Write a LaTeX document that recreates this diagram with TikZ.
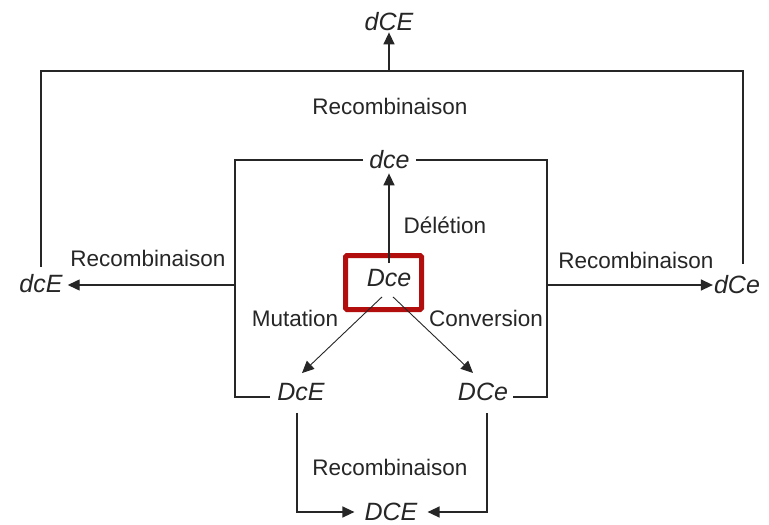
\documentclass[tikz,border=0pt]{standalone}
\usepackage{fontspec}
\setmainfont{Liberation Sans}
\usetikzlibrary{arrows.meta}
\definecolor{ink}{RGB}{38,38,38}
\definecolor{boxred}{RGB}{178,14,14}
\begin{document}
\begin{tikzpicture}[x=1pt,y=-1pt,
  gene/.style={font=\fontsize{25}{28}\selectfont\itshape, text=ink, inner sep=0pt},
  lbl/.style={font=\fontsize{22.5}{26}\selectfont, text=ink, inner sep=0pt},
  link/.style={draw=ink, line width=1.4pt},
  tiplink/.style={link, -{Triangle[length=12pt,width=11pt]}},
  diag/.style={draw=ink, line width=0.9pt, -{Triangle[length=12pt,width=11pt]}},
  focus/.style={draw=boxred, line width=5pt, rounded corners=1.5pt,
    minimum width=76pt, minimum height=54pt, inner sep=0pt}]
\fill[white] (0,0) rectangle (769,525);
\useasboundingbox (0,0) rectangle (769,525);

% genotypes
\node[gene] (dCE) at (389,22) {dCE};
\node[gene] (dce) at (389.5,160) {dce};
\node[gene] (dcE) at (41,284) {dcE};
\node[gene] (dCe) at (737,285) {dCe};
\node[focus] (box) at (383.5,282.5) {};
\node[gene] (Dce) at (389,278) {Dce};
\node[gene] (DcE) at (301,392) {DcE};
\node[gene] (DCe) at (483,392) {DCe};
\node[gene] (DCE) at (391,512) {DCE};

% process labels
\node[lbl] (rTop) at (390,106) {Recombinaison};
\node[lbl] (rLeft) at (148,258) {Recombinaison};
\node[lbl] (rRight) at (636,260) {Recombinaison};
\node[lbl] (rBottom) at (390,467) {Recombinaison};
\node[lbl] (del) at (445,225) {Délétion};
\node[lbl] (mut) at (295,318) {Mutation};
\node[lbl] (conv) at (486,318) {Conversion};

% routing points
\coordinate (top) at (389,71);
\coordinate (iL) at (235,397);
\coordinate (iR) at (547,397);
\coordinate (mL) at (235,285);
\coordinate (mR) at (547,285);
\coordinate (bL) at (297,512);
\coordinate (bR) at (487,512);
\coordinate (dstart) at (389,263);

% outer recombination frame: dcE + dCe -> dCE
\draw[link] ([yshift=8pt]dcE.north) |- (top) -| ([xshift=6pt,yshift=12pt]dCe.north);
\draw[tiplink, shorten >=1pt] (top) -- (top |- dCE.south);

% inner frame around dce, DcE and DCe
\draw[link, shorten >=7pt] ([xshift=-6pt]dce.west) -| (iL) -- (iL -| DcE.west);
\draw[link, shorten >=5pt] ([xshift=6pt]dce.east) -| (iR) -- (iR -| DCe.east);
\draw[tiplink, shorten >=5pt] (mL) -- (mL -| dcE.east);
\draw[tiplink, shorten >=1pt] (mR) -- (mR -| dCe.west);

% events from Dce
\draw[tiplink, shorten >=4pt] (dstart) -- (dstart |- dce.south);
\draw[diag] ([xshift=-7pt,yshift=-10pt]Dce.south) -- ([xshift=1pt,yshift=10pt]DcE.north);
\draw[diag] ([xshift=4pt,yshift=-10pt]Dce.south) -- ([xshift=-10pt,yshift=10pt]DCe.north);

% recombination of DcE and DCe
\draw[tiplink, shorten >=10pt] ([xshift=-4pt,yshift=-12pt]DcE.south) -- (bL) -- (bL -| DCE.west);
\draw[tiplink, shorten >=10pt] ([xshift=4pt,yshift=-12pt]DCe.south) -- (bR) -- (bR -| DCE.east);
\end{tikzpicture}
\end{document}
